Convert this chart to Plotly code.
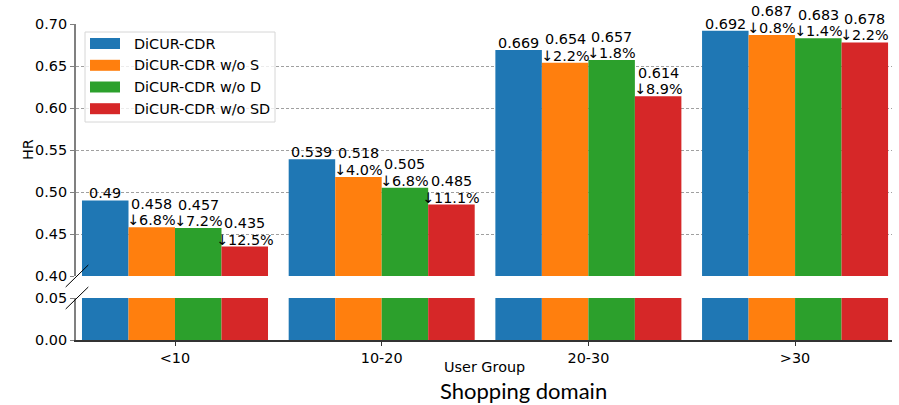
import plotly.graph_objects as go

# ---- data -------------------------------------------------------------
groups = ["<10", "10-20", "20-30", ">30"]
models = ["DiCUR-CDR", "DiCUR-CDR w/o S", "DiCUR-CDR w/o D", "DiCUR-CDR w/o SD"]
colors = ["#1f77b4", "#ff7f0e", "#2ca02c", "#d62728"]

hr_full = [0.49, 0.539, 0.669, 0.692]
hr_wo_s = [0.458, 0.518, 0.654, 0.687]
hr_wo_d = [0.457, 0.505, 0.657, 0.683]
hr_wo_sd = [0.435, 0.485, 0.614, 0.678]

drop_wo_s = ["6.8%", "4.0%", "2.2%", "0.8%"]
drop_wo_d = ["7.2%", "6.8%", "1.8%", "1.4%"]
drop_wo_sd = ["12.5%", "11.1%", "8.9%", "2.2%"]

series = [hr_full, hr_wo_s, hr_wo_d, hr_wo_sd]
drops = [None, drop_wo_s, drop_wo_d, drop_wo_sd]

top_ticks = [0.40, 0.45, 0.50, 0.55, 0.60, 0.65, 0.70]
bottom_ticks = [0.00, 0.05]

# ---- geometry ---------------------------------------------------------
W, H = 899, 405
L, R, T, B = 76, 892, 24, 340          # plot area in pixels
BAR_W = 0.225
FONT = "DejaVu Sans"
FS = 14.4
LINE_GAP = 16.5                         # spacing of the two label lines


def px(xp):
    return (xp - L) / (R - L)


def py(yp):
    return (B - yp) / (B - T)


fig = go.Figure()
x_idx = list(range(len(groups)))

for i, (name, vals, col) in enumerate(zip(models, series, colors)):
    off = -0.45 + i * BAR_W
    for yax, xax in (("y", "x"), ("y2", "x2")):
        fig.add_trace(go.Bar(
            x=x_idx, y=vals, name=name, width=BAR_W, offset=off,
            marker=dict(color=col, line=dict(width=0)),
            xaxis=xax, yaxis=yax, showlegend=False, hoverinfo="skip",
        ))

label_font = dict(family=FONT, size=FS, color="black")

# value labels above the bars (value, and the relative drop beneath it)
annotations = []
for i, vals in enumerate(series):
    for g, v in enumerate(vals):
        xc = g - 0.45 + i * BAR_W + BAR_W / 2
        lines = [f"{v:g}"] if drops[i] is None else [f"{v:g}", f"↓{drops[i][g]}"]
        for k, line in enumerate(reversed(lines)):
            annotations.append(dict(
                x=xc, y=v, xref="x", yref="y2", text=line, showarrow=False,
                xanchor="center", yanchor="bottom", yshift=-3 + k * LINE_GAP,
                font=label_font,
            ))

# axis titles
annotations.append(dict(x=px(28), y=py(150), xref="paper", yref="paper", text="HR",
                        textangle=-90, showarrow=False, xanchor="center", yanchor="middle",
                        font=label_font))
annotations.append(dict(x=0.5, y=py(367), xref="paper", yref="paper", text="User Group",
                        showarrow=False, xanchor="center", yanchor="middle", borderpad=0,
                        font=label_font))
annotations.append(dict(x=px(523), y=py(390.5), xref="paper", yref="paper", text="Shopping domain",
                        showarrow=False, xanchor="center", yanchor="middle", borderpad=0,
                        font=dict(family="Lato", size=22, color="black")))

shapes = []
# legend box
shapes.append(dict(type="rect", xref="paper", yref="paper",
                   x0=px(85), x1=px(275), y0=py(122), y1=py(32),
                   line=dict(color="#d6d6d6", width=1), fillcolor="rgba(255,255,255,0.8)",
                   layer="above"))
legend_rows = [43.5, 65.3, 87.0, 108.7]
for name, col, yc in zip(models, colors, legend_rows):
    shapes.append(dict(type="rect", xref="paper", yref="paper",
                       x0=px(90), x1=px(120), y0=py(yc + 5.5), y1=py(yc - 5.5),
                       line=dict(width=0), fillcolor=col, layer="above"))
    annotations.append(dict(x=px(132), y=py(yc), xref="paper", yref="paper", text=name,
                            showarrow=False, xanchor="left", yanchor="middle",
                            font=label_font))

# broken-axis diagonal marks
for yc in (276, 298):
    shapes.append(dict(type="line", xref="paper", yref="paper",
                       x0=px(65.7), y0=py(yc + 11), x1=px(88.3), y1=py(yc - 11),
                       line=dict(color="black", width=1)))

grid = dict(showgrid=True, gridcolor="#a0a0a0", gridwidth=1, griddash="3px,2px")
tickfont = dict(family=FONT, size=FS, color="black")

fig.update_layout(
    width=W, height=H,
    margin=dict(l=L, r=W - R, t=T, b=H - B),
    paper_bgcolor="white", plot_bgcolor="white",
    barmode="overlay", showlegend=False,
    xaxis=dict(domain=[0, 1], anchor="y", range=[-0.479, 3.469],
               tickvals=x_idx, ticktext=groups, tickfont=tickfont,
               ticks="outside", ticklen=4, tickcolor="#333",
               showline=True, linecolor="#333", linewidth=2, showgrid=False, zeroline=False),
    xaxis2=dict(domain=[0, 1], anchor="y2", matches="x", visible=False),
    yaxis=dict(domain=[0, py(298)], anchor="x", range=[0, 0.05],
               tickvals=bottom_ticks, tickformat=".2f", tickfont=tickfont,
               ticks="outside", ticklen=4, tickcolor="#808080",
               showline=True, linecolor="#808080", linewidth=2, zeroline=False, **grid),
    yaxis2=dict(domain=[py(276), 1], anchor="x2", range=[0.40, 0.70],
                tickvals=top_ticks, tickformat=".2f", tickfont=tickfont,
                ticks="outside", ticklen=4, tickcolor="#808080",
                showline=True, linecolor="#808080", linewidth=2, zeroline=False, **grid),
    annotations=annotations,
    shapes=shapes,
)

fig.write_html("out.html", config={"displayModeBar": False})
